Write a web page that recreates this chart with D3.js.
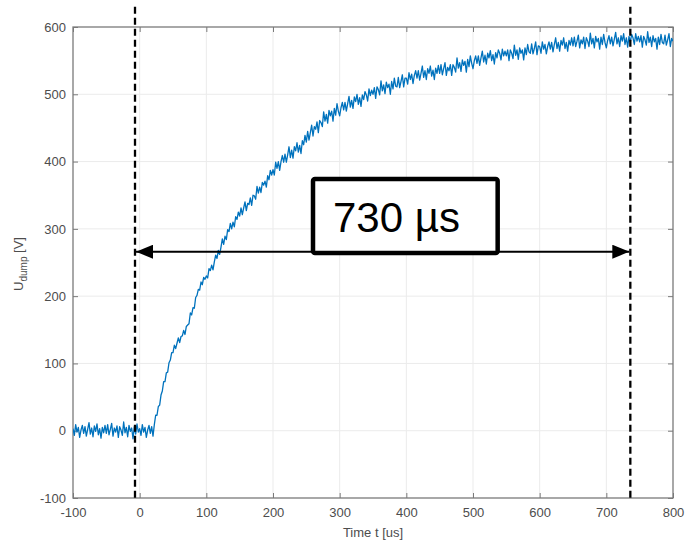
<!DOCTYPE html>
<html>
<head>
<meta charset="utf-8">
<script src="https://cdn.jsdelivr.net/npm/d3@7/dist/d3.min.js"></script>
<style>
    body { margin: 0; background: #fff; overflow: hidden; }
    svg { display: block; font-family: "Liberation Sans", Arial, sans-serif; }
</style>
</head>
<body>
<svg id="chart"></svg>
<script>
// axis ticks
var xTicks = [-100, 0, 100, 200, 300, 400, 500, 600, 700, 800];
var yTicks = [-100, 0, 100, 200, 300, 400, 500, 600];

// scope trace: one sample every 2 us starting at -100 us
var sampleStart = -100,
    sampleStep = 2;
var voltage = [
    3, -7, 9, -2, 5, -10, 1, 8, -4, 6, -8, 2, 12, -5, 4, -9, 7, -1, 10, -6, 3, -11, 5, -3, 8,
    -4, 9, -6, 2, 11, -8, 4, -2, 7, -10, 6, 1, -7, 13, -3, 5, -9, 8, -1, 4, -12, 6, -5, 10, -2,
    3, -7, 9, -2, 5, -10, 1, 8, -4, 6, -8, 9, 23, 23, 36, 38, 53, 59, 73, 73, 86, 87, 101, 105, 116,
    116, 127, 122, 130, 138, 131, 140, 141, 149, 143, 155, 157, 159, 175, 172, 183, 182, 198, 201, 210, 209, 221, 217, 228, 225,
    230, 227, 241, 238, 246, 239, 251, 261, 256, 268, 262, 273, 285, 277, 289, 284, 299, 296, 308, 300, 310, 303, 318, 314, 325,
    319, 331, 321, 331, 340, 327, 338, 336, 346, 335, 350, 349, 344, 363, 353, 362, 354, 369, 365, 371, 362, 379, 373, 387, 380,
    388, 380, 399, 390, 400, 387, 400, 409, 399, 411, 399, 410, 422, 406, 417, 405, 422, 416, 428, 414, 424, 412, 431, 425, 439,
    429, 445, 432, 443, 454, 438, 452, 448, 459, 443, 461, 458, 452, 474, 460, 470, 457, 476, 468, 475, 460, 479, 469, 486, 475,
    468, 480, 488, 477, 488, 475, 486, 497, 481, 491, 479, 496, 489, 500, 485, 495, 482, 499, 492, 504, 499, 490, 508, 498, 506,
    500, 510, 494, 511, 507, 499, 520, 505, 514, 501, 518, 510, 515, 500, 519, 508, 524, 512, 511, 525, 510, 519, 529, 511, 524,
    524, 515, 532, 522, 530, 516, 528, 535, 524, 535, 521, 531, 542, 525, 535, 522, 538, 531, 542, 527, 536, 522, 539, 531, 543,
    531, 544, 529, 538, 547, 528, 540, 535, 544, 528, 544, 540, 533, 554, 539, 547, 534, 551, 543, 549, 533, 552, 541, 557, 546,
    538, 550, 557, 546, 557, 543, 554, 564, 548, 558, 545, 561, 554, 565, 550, 559, 545, 562, 554, 566, 561, 551, 567, 557, 564,
    557, 566, 550, 566, 561, 553, 573, 558, 566, 552, 569, 561, 566, 551, 569, 559, 574, 563, 561, 575, 560, 568, 578, 559, 572,
    571, 561, 578, 567, 574, 560, 571, 578, 567, 577, 563, 574, 584, 568, 577, 564, 580, 573, 584, 568, 577, 564, 580, 573, 584,
    572, 585, 571, 579, 588, 569, 581, 575, 585, 568, 584, 579, 571, 591, 575, 583, 569, 586, 578, 583, 567, 585, 574, 589, 577,
    569, 580, 587, 575, 585, 572, 582, 592, 575, 584, 571, 587, 579, 590, 574, 584, 570, 586, 578, 589, 584, 574, 590, 579, 586,
    578, 587, 570, 586, 581, 573, 593, 577, 585, 571, 587, 578, 583, 567, 585, 574, 589, 577, 575, 588, 573, 581, 590, 571, 583,
    579
];

// annotation: start / end markers and the span label
var markerTimes = [-7, 736];
var markerTop = 630;
var arrowLevel = 266;
var spanLabel = '730 µs';
var labelBoxTimes = [260, 537];
var labelBoxVolts = [264, 374];

var width = 685,
    height = 543,
    margin = { top: 27, left: 73, right: 12, bottom: 45 },
    innerWidth = width - margin.left - margin.right,
    innerHeight = height - margin.top - margin.bottom;

var svg = d3.select('#chart')
    .attr('width', width)
    .attr('height', height);

var chart = svg.append('g')
    .attr('transform', 'translate(' + margin.left + ', ' + margin.top + ')');

var x = d3.scaleLinear().domain([-100, 800]).range([0, innerWidth]);
var y = d3.scaleLinear().domain([-100, 600]).range([innerHeight, 0]);

// plain hyphen for negatives, like the original figure
var plainNumber = function (d) { return String(d); };

// grid
chart.append('g').selectAll('line')
    .data(xTicks.slice(1, -1))
    .enter().append('line')
    .attr('x1', function (d) { return x(d); })
    .attr('x2', function (d) { return x(d); })
    .attr('y1', 0)
    .attr('y2', innerHeight)
    .attr('stroke', '#ebebeb');

chart.append('g').selectAll('line')
    .data(yTicks.slice(1, -1))
    .enter().append('line')
    .attr('y1', function (d) { return y(d); })
    .attr('y2', function (d) { return y(d); })
    .attr('x1', 0)
    .attr('x2', innerWidth)
    .attr('stroke', '#ebebeb');

// axes, ticks pointing inward on all four sides
function styleAxis(g) {
    g.select('.domain').remove();
    g.selectAll('.tick line').attr('stroke', '#7a7a7a');
    g.selectAll('.tick text')
        .attr('fill', '#4d4d4d')
        .style('font-size', '13px')
        .style('font-family', '"Liberation Sans", Arial, sans-serif');
}

chart.append('g')
    .attr('transform', 'translate(0,' + innerHeight + ')')
    .call(d3.axisBottom(x).tickValues(xTicks).tickFormat(plainNumber)
        .tickSizeInner(-5).tickSizeOuter(0).tickPadding(10))
    .call(styleAxis);

chart.append('g')
    .call(d3.axisLeft(y).tickValues(yTicks).tickFormat(plainNumber)
        .tickSizeInner(-5).tickSizeOuter(0).tickPadding(7))
    .call(styleAxis);

chart.append('g')
    .call(d3.axisTop(x).tickValues(xTicks).tickSizeInner(-5).tickSizeOuter(0))
    .call(styleAxis)
    .selectAll('.tick text').remove();

chart.append('g')
    .attr('transform', 'translate(' + innerWidth + ',0)')
    .call(d3.axisRight(y).tickValues(yTicks).tickSizeInner(-5).tickSizeOuter(0))
    .call(styleAxis)
    .selectAll('.tick text').remove();

chart.append('rect')
    .attr('width', innerWidth)
    .attr('height', innerHeight)
    .attr('fill', 'none')
    .attr('stroke', '#7a7a7a')
    .attr('stroke-width', 1.3);

// trace
chart.append('clipPath').attr('id', 'plotClip')
    .append('rect').attr('width', innerWidth).attr('height', innerHeight);

var line = d3.line()
    .x(function (d, i) { return x(sampleStart + i * sampleStep); })
    .y(function (d) { return y(d); });

chart.append('path')
    .datum(voltage)
    .attr('clip-path', 'url(#plotClip)')
    .attr('fill', 'none')
    .attr('stroke', '#0072BD')
    .attr('stroke-width', 1.3)
    .attr('stroke-linejoin', 'round')
    .attr('d', line);

// dashed markers
chart.append('g').selectAll('line')
    .data(markerTimes)
    .enter().append('line')
    .attr('x1', function (d) { return x(d); })
    .attr('x2', function (d) { return x(d); })
    .attr('y1', y(markerTop))
    .attr('y2', y(-100))
    .attr('stroke', '#000')
    .attr('stroke-width', 2.3)
    .attr('stroke-dasharray', '7,4');

// double arrow
var defs = svg.append('defs');
defs.append('marker')
    .attr('id', 'arrowHead')
    .attr('markerUnits', 'userSpaceOnUse')
    .attr('viewBox', '0 0 17 14')
    .attr('refX', 17)
    .attr('refY', 7)
    .attr('markerWidth', 17)
    .attr('markerHeight', 14)
    .attr('orient', 'auto-start-reverse')
    .append('path')
    .attr('d', 'M0,0 L17,7 L0,14 Z')
    .attr('fill', '#000');

chart.append('line')
    .attr('x1', x(markerTimes[0]) + 1)
    .attr('x2', x(markerTimes[1]) - 1)
    .attr('y1', y(arrowLevel))
    .attr('y2', y(arrowLevel))
    .attr('stroke', '#000')
    .attr('stroke-width', 2)
    .attr('marker-start', 'url(#arrowHead)')
    .attr('marker-end', 'url(#arrowHead)');

// label box
var bx = x(labelBoxTimes[0]),
    by = y(labelBoxVolts[1]),
    bw = x(labelBoxTimes[1]) - bx,
    bh = y(labelBoxVolts[0]) - by;

chart.append('rect')
    .attr('x', bx)
    .attr('y', by)
    .attr('width', bw)
    .attr('height', bh)
    .attr('rx', 2)
    .attr('fill', '#fff')
    .attr('stroke', '#000')
    .attr('stroke-width', 4.5);

chart.append('text')
    .attr('x', bx + 20)
    .attr('y', by + 53)
    .style('font-size', '42px')
    .attr('fill', '#000')
    .text(spanLabel);

// axis titles
var yTitle = svg.append('text')
    .attr('transform', 'translate(23,264) rotate(-90)')
    .attr('text-anchor', 'middle')
    .attr('fill', '#4d4d4d')
    .style('font-size', '13px');
yTitle.append('tspan').text('U');
yTitle.append('tspan').attr('dy', 4).style('font-size', '10px').text('dump');
yTitle.append('tspan').attr('dy', -4).text(' [V]');

svg.append('text')
    .attr('x', margin.left + innerWidth / 2)
    .attr('y', 537)
    .attr('text-anchor', 'middle')
    .attr('fill', '#4d4d4d')
    .style('font-size', '13px')
    .text('Time t [us]');
</script>
</body>
</html>
